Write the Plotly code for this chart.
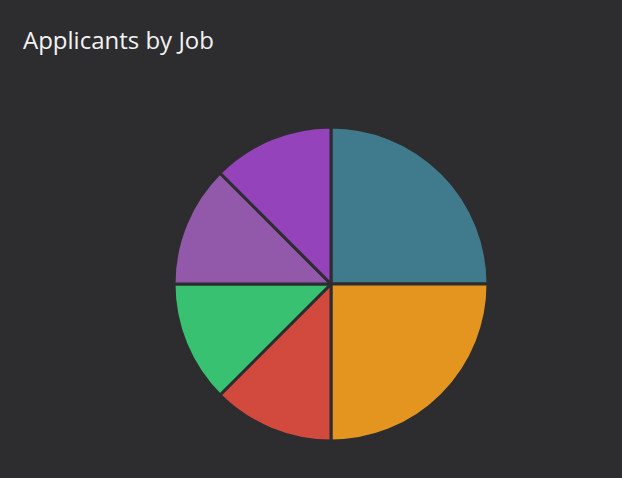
import plotly.graph_objects as go

jobs = ["Data Analyst", "Software Engineer", "Designer", "Marketing", "Sales", "Support"]
applicants = [50, 50, 25, 25, 25, 25]
colors = ["#3f7a8d", "#e4951f", "#d24a3d", "#38c170", "#9259aa", "#9443bb"]

W, H = 622, 478
cx, cy, r = 331, 284, 157

fig = go.Figure(go.Pie(
    labels=jobs,
    values=applicants,
    sort=False,
    direction="clockwise",
    rotation=0,
    textinfo="none",
    hoverinfo="label+value+percent",
    marker=dict(colors=colors, line=dict(color="#2d2d2f", width=3)),
    domain=dict(x=[(cx - r) / W, (cx + r) / W], y=[1 - (cy + r) / H, 1 - (cy - r) / H]),
    showlegend=False,
))

fig.add_annotation(
    text="Applicants by Job",
    xref="paper", yref="paper",
    x=21 / W, y=1 - 39 / H,
    xanchor="left", yanchor="middle",
    showarrow=False,
    font=dict(family="Open Sans, Noto Sans, sans-serif", size=24, color="#f2f2f2"),
)

fig.update_layout(
    width=W, height=H,
    margin=dict(l=0, r=0, t=0, b=0),
    paper_bgcolor="#2d2d2f",
    plot_bgcolor="#2d2d2f",
)

fig.write_html(
    "out.html",
    config={"displayModeBar": False},
    post_script="document.body.style.margin='0';document.body.style.overflow='hidden';document.body.style.background='#2d2d2f';",
)
